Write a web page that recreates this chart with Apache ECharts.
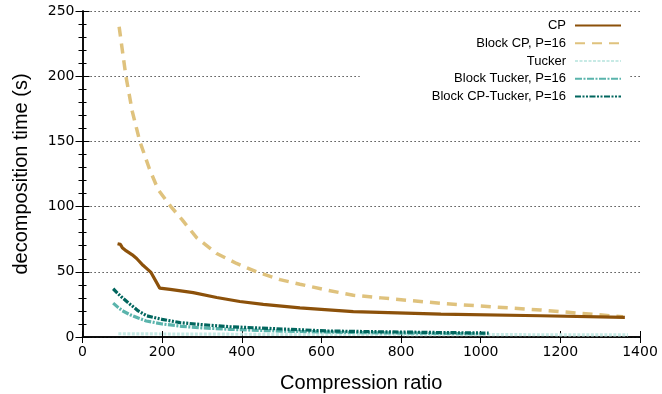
<!DOCTYPE html>
<html>
<head>
<meta charset="utf-8">
<script src="https://cdn.jsdelivr.net/npm/echarts@6/dist/echarts.min.js"></script>
<style>html,body{margin:0;padding:0;background:#fff}#c{width:662px;height:394px}</style>
</head>
<body>
<div id="c"></div>
<script>
// ---- data ----
const seriesNames = ["CP", "Block CP, P=16", "Tucker", "Block Tucker, P=16", "Block CP-Tucker, P=16"];
const xTicks = [0, 200, 400, 600, 800, 1000, 1200, 1400];
const yTicks = [0, 50, 100, 150, 200, 250];

const cpX = [88, 95, 100, 110, 125, 136, 152, 165, 172, 194, 220, 278, 337, 395, 454, 546, 680, 900, 1150, 1362];
const cpY = [71.5, 71, 68.5, 66, 63, 60.2, 55, 51.5, 49.5, 37.5, 36.5, 34, 30.3, 27.2, 25, 22.4, 19.5, 17.6, 16.3, 15];

const bcpX = [92, 100, 109, 125, 144, 168, 190, 222, 250, 287, 337, 387, 437, 496, 546, 613, 680, 750, 900, 1150, 1357];
const bcpY = [238, 220, 200, 173, 150, 129, 113, 100, 90, 76, 64, 56.4, 50, 44, 40.5, 36, 32, 30, 25.8, 20.7, 15.5];

const tuckerX = [90, 200, 400, 600, 800, 1000, 1200, 1370];
const tuckerY = [2.5, 2.3, 2.1, 2, 1.9, 1.8, 1.7, 1.6];

const btX = [77, 90, 100, 120, 140, 160, 200, 250, 300, 370, 450, 550, 650, 750, 850, 1010];
const btY = [26, 22.5, 20.2, 17, 14.5, 12.3, 10, 8.2, 7, 5.9, 5, 4.2, 3.6, 3.2, 2.9, 2.5];

const bctX = [77, 90, 102, 120, 140, 161, 200, 245, 300, 370, 450, 550, 617, 750, 850, 1020];
const bctY = [37, 33, 29.6, 25, 20, 16.3, 13.5, 11, 9.5, 7.9, 6.8, 5.5, 4.6, 4, 3.6, 3];

const colors = ["#8c510a", "#dfc27d", "#c7eae5", "#5ab4ac", "#01665e"];
const dashes = ["solid", [10, 7], [3, 1.5], [7, 1.5, 2, 1.5], [6, 1.5, 2, 1.5, 2, 1.5]];
const widths = [3.2, 3.5, 3.2, 3.2, 3.2];

function pairs(xs, ys) { return xs.map((x, i) => [x, ys[i]]); }
const allData = [pairs(cpX, cpY), pairs(bcpX, bcpY), pairs(tuckerX, tuckerY), pairs(btX, btY), pairs(bctX, bctY)];

const drawOrder = [2, 3, 4, 1, 0];
const series = seriesNames.map((name, i) => ({
  name: name,
  type: 'line',
  data: allData[i],
  showSymbol: false,
  symbol: 'none',
  smooth: false,
  z: 2 + drawOrder.indexOf(i),
  color: colors[i],
  lineStyle: { color: colors[i], width: widths[i], type: dashes[i], cap: 'butt' }
}));

const chart = echarts.init(document.getElementById('c'), null, { renderer: 'canvas' });
const tickFont = { fontFamily: 'DejaVu Sans', fontSize: 14, color: '#000' };
const axisLine = { show: true, lineStyle: { color: '#000', width: 1.5 } };
chart.setOption({
  animation: false,
  backgroundColor: '#fff',
  grid: { left: 82.5, right: 22, top: 11, bottom: 57, containLabel: false, outerBoundsMode: 'none' },
  legend: {
    data: seriesNames,
    orient: 'vertical',
    align: 'right',
    right: 32,
    top: 14,
    itemWidth: 46,
    itemHeight: 14,
    itemGap: 4.75,
    padding: [5, 8, 5, 72],
    backgroundColor: '#fff',
    itemStyle: { opacity: 0, borderWidth: 0 },
    textStyle: { fontFamily: 'Liberation Sans', fontSize: 13, color: '#000', padding: [0, 4, 0, 0] },
    z: 10
  },
  xAxis: [{
    type: 'value', min: 0, max: 1400, interval: 200,
    name: 'Compression ratio', nameLocation: 'middle', nameGap: 36,
    nameTextStyle: { fontFamily: 'Liberation Sans', fontSize: 20, color: '#000' },
    axisLine: axisLine,
    axisTick: { show: true, inside: true, length: 6, lineStyle: { color: '#000', width: 1 } },
    axisLabel: Object.assign({ margin: 8, formatter: v => xTicks.includes(v) ? String(v) : '' }, tickFont),
    splitLine: { show: false }
  }, {
    type: 'value', min: 0, max: 1400, interval: 200, position: 'top',
    axisLine: axisLine,
    axisTick: { show: true, inside: true, length: 6, lineStyle: { color: '#000', width: 1 } },
    axisLabel: { show: false },
    splitLine: { show: false }
  }],
  yAxis: [{
    type: 'value', min: 0, max: 250, interval: 50,
    name: 'decomposition time (s)', nameLocation: 'middle', nameGap: 51, nameRotate: 90,
    nameTextStyle: { fontFamily: 'Liberation Sans', fontSize: 20, color: '#000' },
    axisLine: axisLine,
    axisTick: { show: true, inside: true, length: 7, lineStyle: { color: '#000', width: 1 } },
    minorTick: { show: true, splitNumber: 5, length: 4, lineStyle: { color: '#000', width: 1 } },
    axisLabel: Object.assign({ margin: 8, formatter: v => yTicks.includes(v) ? String(v) : '' }, tickFont),
    splitLine: { show: true, lineStyle: { color: '#222', width: 1, type: [1.2, 2.8] } }
  }, {
    type: 'value', min: 0, max: 250, interval: 50, position: 'right',
    axisLine: axisLine,
    axisTick: { show: true, inside: true, length: 7, lineStyle: { color: '#000', width: 1 } },
    minorTick: { show: true, splitNumber: 5, length: 4, lineStyle: { color: '#000', width: 1 } },
    axisLabel: { show: false },
    splitLine: { show: false }
  }],
  series: series
});
</script>
</body>
</html>
